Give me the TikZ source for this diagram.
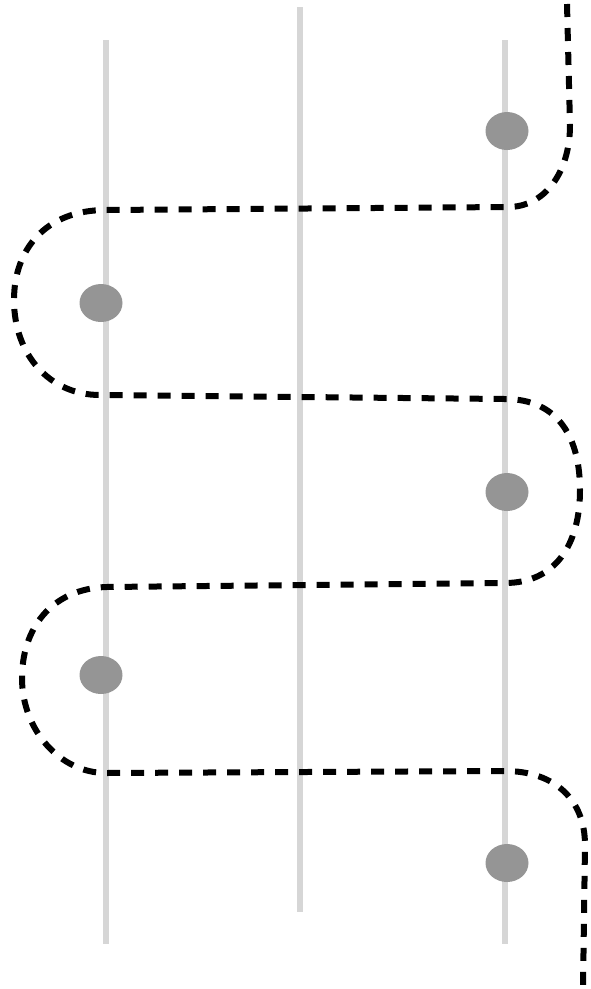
\documentclass[tikz,border=0pt]{standalone}
\usetikzlibrary{shapes.geometric}
\begin{document}
\begin{tikzpicture}[x=1pt,y=-1pt,
  rail/.style={draw=railgray,line width=5.5pt},
  dot/.style={ellipse,fill=dotgray,minimum width=43pt,minimum height=38pt,inner sep=0pt},
  route/.style={draw=black,line width=6pt,dash pattern=on 13pt off 11pt}]
\definecolor{railgray}{HTML}{D6D6D6}
\definecolor{dotgray}{HTML}{959595}
\useasboundingbox (0,0) rectangle (590,989);
% rails
\coordinate (l1) at (106,40);  \coordinate (l2) at (106,944);
\coordinate (m1) at (300,7);   \coordinate (m2) at (300,912);
\coordinate (r1) at (505,40);  \coordinate (r2) at (505,944);
\draw[rail] (l1) -- (l2);
\draw[rail] (m1) -- (m2);
\draw[rail] (r1) -- (r2);
% dots
\node[dot] (d1) at (507,131) {};
\node[dot] (d2) at (101,303) {};
\node[dot] (d3) at (507,492) {};
\node[dot] (d4) at (101,675) {};
\node[dot] (d5) at (507,863) {};
% dashed route
\coordinate (p0) at (567,4);
\coordinate (p1) at (570,125);
\coordinate (p2) at (508,207);
\coordinate (p3) at (106,210);
\coordinate (p4) at (14,300);
\coordinate (p5) at (100,395);
\coordinate (p6) at (505,399);
\coordinate (p7) at (580,490);
\coordinate (p8) at (505,583);
\coordinate (p9) at (106,587);
\coordinate (p10) at (22,678);
\coordinate (p11) at (106,773);
\coordinate (p12) at (505,771);
\coordinate (p13) at (585,845);
\coordinate (p14) at (583,989);
\draw[route] (p0) -- (p1)
  .. controls (570,172) and (545,207) .. (p2) -- (p3)
  .. controls (45,210) and (14,250) .. (p4)
  .. controls (14,355) and (50,395) .. (p5) -- (p6)
  .. controls (560,399) and (580,440) .. (p7)
  .. controls (580,545) and (555,583) .. (p8) -- (p9)
  .. controls (50,589) and (22,630) .. (p10)
  .. controls (22,730) and (60,773) .. (p11) -- (p12)
  .. controls (555,771) and (585,800) .. (p13) -- (p14);
\end{tikzpicture}
\end{document}
